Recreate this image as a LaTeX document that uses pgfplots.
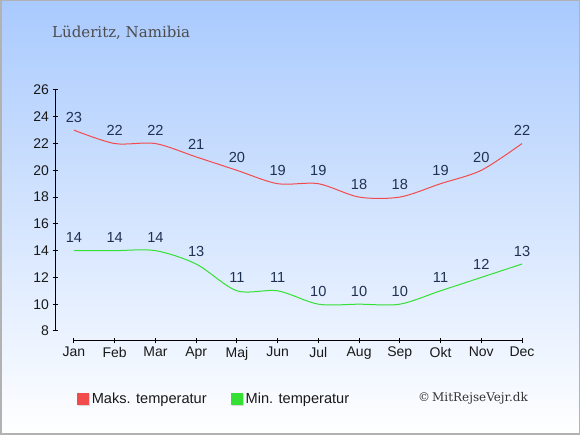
\documentclass[border=0pt]{standalone}
\usepackage{fontspec}
\setmainfont{Liberation Sans}
\newfontfamily\titlefont{DejaVu Serif}
\usepackage{pgfplots}
\pgfplotsset{compat=1.18}
\definecolor{maxc}{HTML}{F24B4B}
\definecolor{minc}{HTML}{33E033}
\definecolor{lbl}{HTML}{1F3050}
\definecolor{bgtop}{HTML}{A9CAFE}
\begin{document}
\begin{tikzpicture}[x=1pt,y=1pt]
\shade[top color=bgtop, bottom color=white] (0,0) rectangle (580,435);
\draw[color=black!30, line width=1.5pt] (0.75,0.75) rectangle (579.25,434.25);
\node[anchor=base west, inner sep=0pt, font=\titlefont\fontsize{15}{18}\selectfont, text=black!70] at (52,397) {Lüderitz, Namibia};
\node[anchor=base west, inner sep=0pt, font=\titlefont\fontsize{12}{14}\selectfont, text=black!80] at (418,33) {©\,MitRejseVejr.dk};
\begin{axis}[at={(55pt,94pt)}, anchor=south west, scale only axis,
  width=467pt, height=251pt,
  xmin=-0.466, xmax=11, ymin=7.25, ymax=26,
  axis lines=left, axis line style={draw=none,-},
  xtick={0,...,11},
  xticklabels={Jan,Feb,Mar,Apr,Maj,Jun,Jul,Aug,Sep,Okt,Nov,Dec},
  ytick={8,10,...,26},
  tick align=center, major tick length=5pt,
  tick style={black, line width=1pt},
  ticklabel style={font=\fontsize{14}{16}\selectfont, text=black!90},
  /pgf/number format/assume math mode=true,
  legend columns=2,
  legend style={at={(axis description cs:0.040,-0.231)}, anchor=west, draw=none, fill=none,
    font=\fontsize{14.6}{16}\selectfont, text=black!90,
    /tikz/every even column/.append style={column sep=22pt}},
  clip=false,
]
\draw[black, line width=1pt] (axis cs:0,7.25) -- (axis cs:11,7.25);
\draw[black, line width=1pt] (axis cs:-0.466,8) -- (axis cs:-0.466,26);
\addlegendimage{legend image code/.code={\fill[black!15](1.5pt,-6.5pt) rectangle (12.5pt,4.5pt); \fill[maxc](0pt,-5.5pt) rectangle (11pt,5.5pt);}}
\addlegendentry{Maks. temperatur}
\addlegendimage{legend image code/.code={\fill[black!15](1.5pt,-6.5pt) rectangle (12.5pt,4.5pt); \fill[minc](0pt,-5.5pt) rectangle (11pt,5.5pt);}}
\addlegendentry{Min. temperatur}
\addplot[maxc, smooth, line width=1pt, forget plot, nodes near coords,
  every node near coord/.style={anchor=center, yshift=13pt, font=\fontsize{14.6}{16}\selectfont, text=lbl}]
  coordinates {(0,23) (1,22) (2,22) (3,21) (4,20) (5,19) (6,19) (7,18) (8,18) (9,19) (10,20) (11,22)};
\addplot[minc, smooth, line width=1pt, forget plot, nodes near coords,
  every node near coord/.style={anchor=center, yshift=13pt, font=\fontsize{14.6}{16}\selectfont, text=lbl}]
  coordinates {(0,14) (1,14) (2,14) (3,13) (4,11) (5,11) (6,10) (7,10) (8,10) (9,11) (10,12) (11,13)};
\end{axis}
\end{tikzpicture}
\end{document}
